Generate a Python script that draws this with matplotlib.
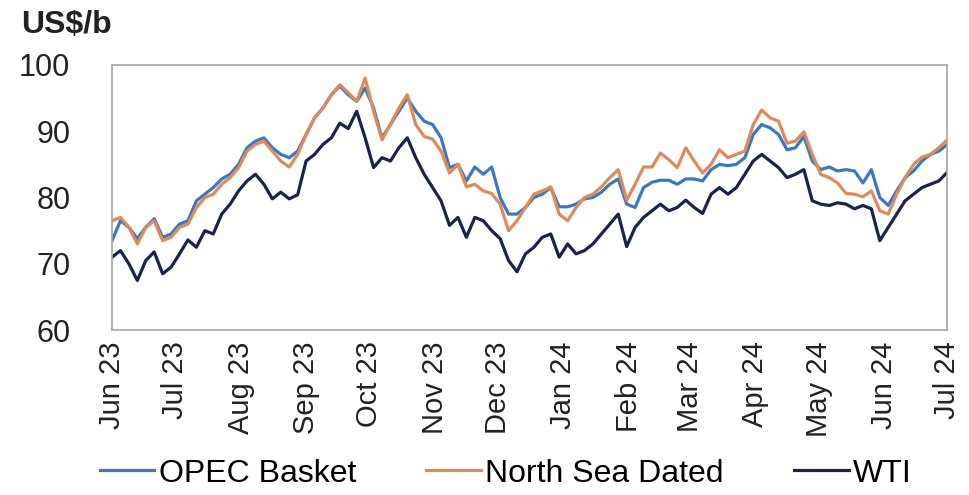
import pandas as pd
import matplotlib
matplotlib.use("Agg")
import matplotlib.pyplot as plt
import matplotlib.dates as mdates


# ==========================
# Data (US$/b, sampled every 4 days)
# ==========================
START = "2023-06-01"
END = "2024-07-01"

dates = pd.date_range(START, END, periods=100)

opec_basket = [
    73.5, 76.5, 75.5, 73.8, 75.5, 76.8, 74.0, 74.5, 76.0, 76.5,
    79.5, 80.5, 81.5, 82.8, 83.5, 85.0, 87.5, 88.5, 89.0, 87.5,
    86.5, 86.0, 87.0, 89.5, 92.0, 93.5, 95.5, 96.8, 95.5, 94.5,
    96.5, 93.5, 89.0, 91.0, 93.0, 95.0, 93.0, 91.5, 91.0, 89.0,
    84.5, 85.0, 82.5, 84.6, 83.5, 84.6, 80.0, 77.5, 77.5, 78.5,
    80.0, 80.5, 81.5, 78.6, 78.6, 79.0, 79.8, 80.0, 80.8, 82.0,
    82.8, 79.0, 78.5, 81.5, 82.3, 82.6, 82.6, 82.0, 82.8, 82.8,
    82.5, 84.2, 85.0, 84.8, 85.0, 86.0, 89.5, 91.0, 90.5, 89.5,
    87.2, 87.5, 89.2, 85.5, 84.2, 84.6, 84.0, 84.2, 84.0, 82.2,
    84.2, 80.0, 78.8, 81.0, 83.0, 84.0, 85.5, 86.5, 87.0, 88.0,
]

north_sea_dated = [
    76.5, 77.0, 75.5, 73.0, 75.5, 76.5, 73.5, 74.0, 75.5, 76.0,
    78.5, 80.0, 80.5, 82.0, 83.0, 84.5, 87.0, 88.0, 88.5, 87.0,
    85.5, 84.6, 86.5, 89.5, 92.0, 93.5, 95.5, 97.0, 95.8, 94.5,
    98.0, 93.0, 88.7, 91.0, 93.5, 95.5, 91.0, 89.2, 88.8, 87.0,
    83.7, 85.0, 81.6, 82.0, 81.0, 80.6, 79.0, 75.0, 76.5, 78.5,
    80.5, 81.0, 81.6, 77.5, 76.5, 78.5, 80.0, 80.5, 81.6, 83.0,
    84.2, 79.6, 82.0, 84.6, 84.6, 86.7, 85.7, 84.5, 87.5, 85.5,
    83.7, 85.0, 87.2, 86.0, 86.5, 87.0, 91.0, 93.2, 92.0, 91.5,
    88.2, 88.5, 89.9, 86.5, 83.5, 83.0, 82.2, 80.6, 80.5, 80.1,
    81.0, 78.0, 77.5, 80.5, 83.0, 85.0, 86.1, 86.5, 87.5, 88.7,
]

wti = [
    71.0, 72.0, 70.0, 67.5, 70.5, 71.8, 68.5, 69.5, 71.5, 73.6,
    72.5, 75.0, 74.5, 77.5, 79.0, 81.0, 82.5, 83.5, 82.0, 79.8,
    80.8, 79.8, 80.4, 85.5, 86.5, 88.0, 89.0, 91.2, 90.4, 93.0,
    89.0, 84.5, 86.0, 85.5, 87.5, 89.0, 86.0, 83.5, 81.5, 79.5,
    75.8, 77.0, 74.0, 77.0, 76.5, 75.0, 73.8, 70.5, 68.8, 71.5,
    72.5, 74.0, 74.5, 71.0, 73.0, 71.5, 72.0, 73.0, 74.5, 76.0,
    77.5, 72.6, 75.5, 77.0, 78.0, 79.0, 78.0, 78.5, 79.6, 78.5,
    77.6, 80.5, 81.5, 80.5, 81.5, 83.5, 85.5, 86.5, 85.5, 84.5,
    83.0, 83.5, 84.2, 79.5, 79.0, 78.8, 79.2, 79.0, 78.3, 78.8,
    78.3, 73.5, 75.5, 77.5, 79.5, 80.5, 81.5, 82.0, 82.5, 83.8,
]

SERIES = [
    ("OPEC Basket", opec_basket, "#3a78c2"),
    ("North Sea Dated", north_sea_dated, "#e0895a"),
    ("WTI", wti, "#17244d"),
]


# ==========================
# Plot
# ==========================
plt.rcParams["font.family"] = ["Liberation Sans", "DejaVu Sans"]

fig = plt.figure(figsize=(9.69, 4.95), dpi=100)
ax = fig.add_axes([0.1156, 0.333, 0.862, 0.536])

for name, values, color in SERIES:
    ax.plot(dates, values, color=color, linewidth=2.3, label=name)

ax.set_xlim(pd.Timestamp(START), pd.Timestamp(END))
ax.set_ylim(60, 100)
ax.set_yticks([60, 70, 80, 90, 100])

ax.xaxis.set_major_locator(mdates.MonthLocator())
ax.xaxis.set_major_formatter(mdates.DateFormatter("%b %y"))

ax.tick_params(axis="both", length=0, colors="#222222")
ax.tick_params(axis="y", labelsize=22, pad=30)
ax.tick_params(axis="x", labelsize=21, pad=8, labelrotation=90)

for spine in ax.spines.values():
    spine.set_color("#a6a6a6")
    spine.set_linewidth(1.2)

fig.text(0.022, 0.95, "US$/b", fontsize=23, fontweight="bold",
         color="#222222", ha="left", va="center")

fig.legend(loc="lower center", bbox_to_anchor=(0.522, -0.045), ncol=3,
           frameon=False, fontsize=23, handlelength=1.7,
           handletextpad=0.15, columnspacing=2.2)

fig.savefig("out.png", dpi=100)
plt.close(fig)
